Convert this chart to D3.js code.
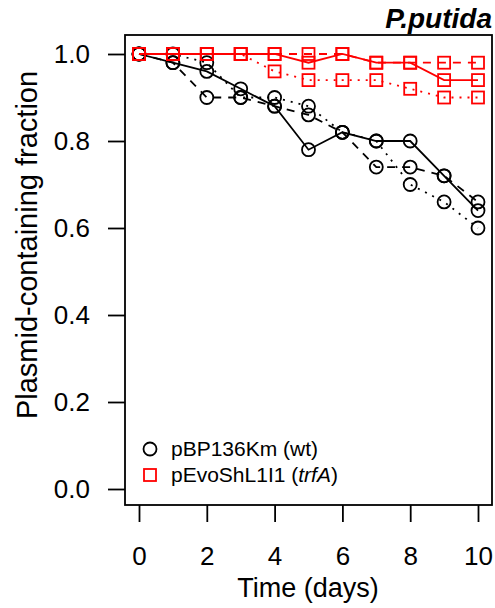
<!DOCTYPE html>
<html>
<head>
<meta charset="utf-8">
<script src="https://cdn.jsdelivr.net/npm/d3@7"></script>
<style>
  body { margin: 0; background: #fff; }
  svg { font-family: "Liberation Sans", Arial, sans-serif; }
</style>
</head>
<body>
<svg id="chart" width="495" height="608"></svg>
<script>
const days = [0, 1, 2, 3, 4, 5, 6, 7, 8, 9, 10];

// pBP136Km (wt), three replicates
const wtSolid  = [1.00, 0.98, 0.96, 0.92, 0.88, 0.78, 0.82, 0.80, 0.80, 0.72, 0.64];
const wtDashed = [1.00, 0.98, 0.90, 0.90, 0.88, 0.86, 0.82, 0.74, 0.74, 0.72, 0.66];
const wtDotted = [1.00, 1.00, 0.98, 0.90, 0.90, 0.88, 0.82, 0.80, 0.70, 0.66, 0.60];

// pEvoShL1I1 (trfA), three replicates
const evoSolid  = [1.00, 1.00, 1.00, 1.00, 1.00, 0.98, 1.00, 0.98, 0.98, 0.94, 0.94];
const evoDashed = [1.00, 1.00, 1.00, 1.00, 1.00, 1.00, 1.00, 0.98, 0.98, 0.98, 0.98];
const evoDotted = [1.00, 1.00, 1.00, 1.00, 0.96, 0.94, 0.94, 0.94, 0.92, 0.90, 0.90];

const xTicks = [0, 2, 4, 6, 8, 10];
const yTicks = [0, 0.2, 0.4, 0.6, 0.8, 1.0];

const box = {left: 125, right: 492, top: 35, bottom: 505};
const font = "'Liberation Sans', Arial, sans-serif";

const svg = d3.select("#chart");

const x = d3.scaleLinear().domain([0, 10]).range([139, 478]);
const y = d3.scaleLinear().domain([0, 1]).range([489, 54]);

const series = [
    {vals: wtSolid,   color: "#000", dash: null,  shape: "circle"},
    {vals: wtDashed,  color: "#000", dash: "8,7", shape: "circle"},
    {vals: wtDotted,  color: "#000", dash: "2,6", shape: "circle"},
    {vals: evoSolid,  color: "#f00", dash: null,  shape: "square"},
    {vals: evoDashed, color: "#f00", dash: "8,7", shape: "square"},
    {vals: evoDotted, color: "#f00", dash: "2,6", shape: "square"}
];

const line = d3.line()
    .x((d, i) => x(days[i]))
    .y(d => y(d));

series.forEach(s => {
    svg.append("path")
        .attr("d", line(s.vals))
        .attr("fill", "none")
        .attr("stroke", s.color)
        .attr("stroke-width", 1.8)
        .attr("stroke-dasharray", s.dash);

    const g = svg.append("g");
    if (s.shape === "circle") {
        g.selectAll("circle")
            .data(s.vals)
            .enter()
            .append("circle")
            .attr("cx", (d, i) => x(days[i]))
            .attr("cy", d => y(d))
            .attr("r", 6.5)
            .attr("fill", "none")
            .attr("stroke", s.color)
            .attr("stroke-width", 1.8);
    } else {
        g.selectAll("rect")
            .data(s.vals)
            .enter()
            .append("rect")
            .attr("x", (d, i) => x(days[i]) - 6)
            .attr("y", d => y(d) - 6)
            .attr("width", 12)
            .attr("height", 12)
            .attr("fill", "none")
            .attr("stroke", s.color)
            .attr("stroke-width", 1.8);
    }
});

// frame
svg.append("rect")
    .attr("x", box.left)
    .attr("y", box.top)
    .attr("width", box.right - box.left)
    .attr("height", box.bottom - box.top)
    .attr("fill", "none")
    .attr("stroke", "#000")
    .attr("stroke-width", 1.8);

// axes
const xAxis = d3.axisBottom(x).tickValues(xTicks).tickSize(17).tickPadding(25)
    .tickFormat(d3.format("d"));
svg.append("g")
    .attr("transform", `translate(0,${box.bottom})`)
    .call(xAxis)
    .call(g => g.select(".domain").remove())
    .call(g => g.selectAll("line").attr("stroke-width", 1.8))
    .call(g => g.selectAll("text").attr("font-size", 26).attr("fill", "#000")
        .attr("font-family", font));

const yAxis = d3.axisLeft(y).tickValues(yTicks).tickSize(17).tickPadding(18)
    .tickFormat(d3.format(".1f"));
svg.append("g")
    .attr("transform", `translate(${box.left},0)`)
    .call(yAxis)
    .call(g => g.select(".domain").remove())
    .call(g => g.selectAll("line").attr("stroke-width", 1.8))
    .call(g => g.selectAll("text").attr("font-size", 26).attr("fill", "#000")
        .attr("font-family", font));

// labels
svg.append("text")
    .attr("x", 308)
    .attr("y", 597)
    .attr("text-anchor", "middle")
    .attr("font-size", 27)
    .text("Time (days)");

svg.append("text")
    .attr("transform", "translate(37,245) rotate(-90)")
    .attr("text-anchor", "middle")
    .attr("font-size", 29)
    .text("Plasmid-containing fraction");

svg.append("text")
    .attr("x", 492)
    .attr("y", 28)
    .attr("text-anchor", "end")
    .attr("font-size", 28)
    .attr("font-weight", "bold")
    .attr("font-style", "italic")
    .text("P.putida");

// legend
svg.append("circle")
    .attr("cx", 150).attr("cy", 449).attr("r", 6.5)
    .attr("fill", "none").attr("stroke", "#000").attr("stroke-width", 1.8);
svg.append("text")
    .attr("x", 171).attr("y", 456)
    .attr("font-size", 21)
    .text("pBP136Km (wt)");

svg.append("rect")
    .attr("x", 144).attr("y", 469).attr("width", 12).attr("height", 12)
    .attr("fill", "none").attr("stroke", "#f00").attr("stroke-width", 1.8);
const lt = svg.append("text")
    .attr("x", 171).attr("y", 482)
    .attr("font-size", 21);
lt.append("tspan").text("pEvoShL1I1 (");
lt.append("tspan").attr("font-style", "italic").text("trfA");
lt.append("tspan").text(")");
</script>
</body>
</html>
